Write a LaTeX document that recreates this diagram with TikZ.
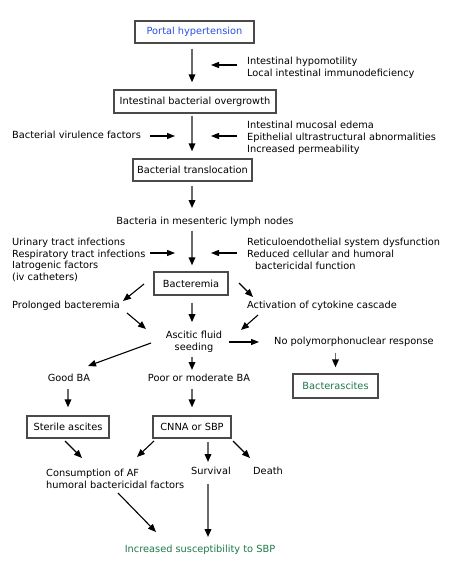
\documentclass[tikz,border=0pt]{standalone}
\usepackage{fontspec}
\setmainfont{DejaVu Sans}
\usetikzlibrary{arrows.meta,calc}
\definecolor{phblue}{HTML}{2A4FE6}
\definecolor{sbpgreen}{HTML}{1E7A48}
\definecolor{shaft}{HTML}{6A6A6A}
\definecolor{boxline}{HTML}{4A4A4A}
\begin{document}
\begin{tikzpicture}[x=1pt,y=-1pt,
  font=\fontsize{9.8}{11.8}\selectfont,
  box/.style={draw=boxline,line width=1.3pt,inner sep=0pt,minimum height=22pt},
  lbl/.style={inner sep=0pt,align=left,text height=7.5pt,text depth=2pt},
  clbl/.style={inner sep=0pt,align=center,text height=7.5pt,text depth=2pt},
  mlbl/.style={inner sep=0pt,align=left,yshift=-1.5pt},
  mclbl/.style={inner sep=0pt,align=center,yshift=-1pt},
  varrow/.style={draw=shaft,line width=1.7pt,-{Triangle[length=8pt,width=6.5pt,color=black]}},
  harrow/.style={draw=black,line width=1.1pt,-{Triangle[length=8pt,width=6pt]}},
  darrow/.style={draw=black,line width=1.1pt,-{Triangle[length=8pt,width=6.5pt]}}]
\useasboundingbox (0,0) rectangle (464,577);
\fill[white] (0,0) rectangle (464,577);
\coordinate (mx) at (192,0);
\coordinate (sv) at (208,0);
% boxes
\node[box,minimum width=119pt,text=phblue] (ph) at (194.5,32) {Portal hypertension};
\node[box,minimum width=162pt,minimum height=23pt] (ibo) at (195,101.5) {Intestinal bacterial overgrowth};
\node[box,minimum width=119pt] (bt) at (192.5,170) {Bacterial translocation};
\node[clbl] (bml) at (205,222) {Bacteria in mesenteric lymph nodes};
\node[box,minimum width=74pt,minimum height=23pt] (bac) at (191,283.5) {Bacteremia};
\node[lbl,anchor=west] (pb) at (12,306) {Prolonged bacteremia};
\node[lbl,anchor=west] (acc) at (247,306) {Activation of cytokine cascade};
\node[mclbl] (afs) at (194,341) {Ascitic fluid\\seeding};
\node[lbl,anchor=west] (npr) at (274,342) {No polymorphonuclear response};
\node[clbl] (gba) at (69,379) {Good BA};
\node[clbl] (pmba) at (199,379) {Poor or moderate BA};
\node[box,minimum width=85pt,minimum height=24pt,text=sbpgreen] (bas) at (335.5,386) {Bacterascites};
\node[box,minimum width=82pt] (ster) at (68,427) {Sterile ascites};
\node[box,minimum width=78pt] (cnna) at (192,427) {CNNA or SBP};
\node[mlbl,anchor=west] (cons) at (46,477.5) {Consumption of AF\\humoral bactericidal factors};
\node[clbl] (surv) at (211,472) {Survival};
\node[clbl] (death) at (268,472) {Death};
\node[clbl,text=sbpgreen] (inc) at (200,550) {Increased susceptibility to SBP};
% side labels
\node[mlbl,anchor=west] (t1) at (247,66.5) {Intestinal hypomotility\\Local intestinal immunodeficiency};
\node[lbl,anchor=west] (bvf) at (12,136) {Bacterial virulence factors};
\node[mlbl,anchor=west] (t2) at (247,136) {Intestinal mucosal edema\\Epithelial ultrastructural abnormalities\\Increased permeability};
\node[mlbl,anchor=west] (t3) at (12,258.5) {Urinary tract infections\\Respiratory tract infections\\Iatrogenic factors\\(iv catheters)};
\node[mlbl,anchor=west] (t4) at (247,252.5) {Reticuloendothelial system dysfunction\\Reduced cellular and humoral\\\hspace{8pt}bactericidal function};
% arrow end points
\coordinate (s1a) at (237,65);   \coordinate (s1b) at (211,65);
\coordinate (s2a) at (150,136);  \coordinate (s2b) at (175,136);
\coordinate (s3a) at (237,136);  \coordinate (s3b) at (211,136);
\coordinate (s4a) at (150,253);  \coordinate (s4b) at (175,253);
\coordinate (s5a) at (237,253);  \coordinate (s5b) at (211,253);
\coordinate (d1a) at (144,284);  \coordinate (d1b) at (123,301);
\coordinate (d2a) at (239,283);  \coordinate (d2b) at (253,297);
\coordinate (d3a) at (127,313);  \coordinate (d3b) at (146,329);
\coordinate (d4a) at (258,315);  \coordinate (d4b) at (241,330);
\coordinate (h1a) at (229,342);  \coordinate (h1b) at (259,342);
\coordinate (d5a) at (151,343);  \coordinate (d5b) at (88,366);
\coordinate (d6a) at (65,441);   \coordinate (d6b) at (82,458);
\coordinate (d7a) at (154,441);  \coordinate (d7b) at (137,457);
\coordinate (d8a) at (233,441);  \coordinate (d8b) at (250,458);
\coordinate (d9a) at (118,493);  \coordinate (d9b) at (156,532);
% main vertical chain
\draw[varrow,shorten <=5pt,shorten >=7pt] (ph.south -| mx) -- (ibo.north -| mx);
\draw[varrow,shorten <=2pt,shorten >=7pt] (ibo.south -| mx) -- (bt.north -| mx);
\draw[varrow,shorten <=4pt,shorten >=9pt] (bt.south -| mx) -- (bml.north -| mx);
\draw[varrow,shorten <=4pt,shorten >=6pt] (bml.south -| mx) -- (bac.north -| mx);
\draw[varrow,shorten <=7pt,shorten >=9pt] (bac.south -| mx) -- (afs.north -| mx);
\draw[varrow,shorten <=4pt,shorten >=4pt] (afs.south -| mx) -- (pmba.north -| mx);
\draw[varrow,shorten <=5pt,shorten >=8pt] (pmba.south -| mx) -- (cnna.north -| mx);
\draw[varrow,shorten <=5pt,shorten >=8pt] (gba.south -| ster) -- (ster.north);
\draw[varrow,shorten <=6pt,shorten >=6pt] (npr.south -| bas) -- (bas.north);
\draw[varrow,shorten <=3pt,shorten >=5pt] (cnna.south -| sv) -- (surv.north -| sv);
\draw[varrow,shorten <=7pt,shorten >=8pt] (surv.south -| sv) -- (inc.north -| sv);
% side arrows
\draw[harrow] (s1a) -- (s1b);
\draw[harrow] (s2a) -- (s2b);
\draw[harrow] (s3a) -- (s3b);
\draw[harrow] (s4a) -- (s4b);
\draw[harrow] (s5a) -- (s5b);
\draw[harrow] (h1a) -- (h1b);
% diagonals
\draw[darrow] (d1a) -- (d1b);
\draw[darrow] (d2a) -- (d2b);
\draw[darrow] (d3a) -- (d3b);
\draw[darrow] (d4a) -- (d4b);
\draw[darrow] (d5a) -- (d5b);
\draw[darrow] (d6a) -- (d6b);
\draw[darrow] (d7a) -- (d7b);
\draw[darrow] (d8a) -- (d8b);
\draw[darrow] (d9a) -- (d9b);
\end{tikzpicture}
\end{document}
